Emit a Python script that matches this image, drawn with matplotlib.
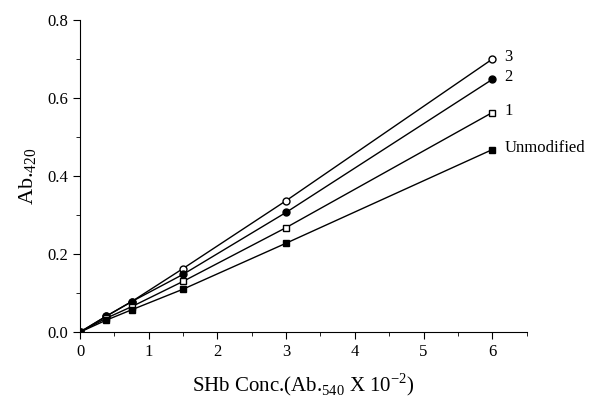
import matplotlib.pyplot as plt
from matplotlib.ticker import MultipleLocator

plt.rcParams['font.family'] = ['Liberation Serif', 'DejaVu Serif']
plt.rcParams['mathtext.fontset'] = 'custom'
plt.rcParams['mathtext.rm'] = 'Liberation Serif'

conc = [0, 0.375, 0.75, 1.5, 3, 6]
unmod = [0, 0.030, 0.057, 0.110, 0.228, 0.468]
mod1 = [0, 0.035, 0.065, 0.130, 0.268, 0.563]
mod2 = [0, 0.040, 0.078, 0.148, 0.307, 0.648]
mod3 = [0, 0.040, 0.078, 0.163, 0.337, 0.700]

fig = plt.figure(figsize=(5.9, 4.03), dpi=100)
ax = fig.add_axes([0.1356, 0.176, 0.757, 0.774])

ax.plot(conc, mod3, '-o', color='black', mfc='white', ms=5, lw=1)
ax.plot(conc, mod2, '-o', color='black', ms=5, lw=1)
ax.plot(conc, mod1, '-s', color='black', mfc='white', ms=4.5, lw=1)
ax.plot(conc, unmod, '-s', color='black', ms=4.5, lw=1)

ax.text(6.18, mod3[-1] + 0.005, '3', fontsize=12, va='center')
ax.text(6.18, mod2[-1] + 0.005, '2', fontsize=12, va='center')
ax.text(6.18, mod1[-1] + 0.005, '1', fontsize=12, va='center')
ax.text(6.18, unmod[-1] + 0.005, 'Unmodified', fontsize=12, va='center')

ax.set_xlim(0, 6.5)
ax.set_ylim(0, 0.8)
ax.xaxis.set_major_locator(MultipleLocator(1))
ax.xaxis.set_minor_locator(MultipleLocator(0.5))
ax.yaxis.set_major_locator(MultipleLocator(0.2))
ax.yaxis.set_minor_locator(MultipleLocator(0.1))
ax.yaxis.set_major_formatter(plt.FuncFormatter(lambda v, p: f'{v:.1f}'))
ax.tick_params(which='major', direction='out', length=5, labelsize=12)
ax.tick_params(which='minor', direction='out', length=3)

ax.spines['top'].set_visible(False)
ax.spines['right'].set_visible(False)

ax.set_xlabel('SHb Conc.(Ab.$_{540}$ X 10$^{-2}$)', fontsize=15, labelpad=8)
ax.set_ylabel('Ab.$_{420}$', fontsize=16, labelpad=6)

fig.savefig('out.png', dpi=100)
